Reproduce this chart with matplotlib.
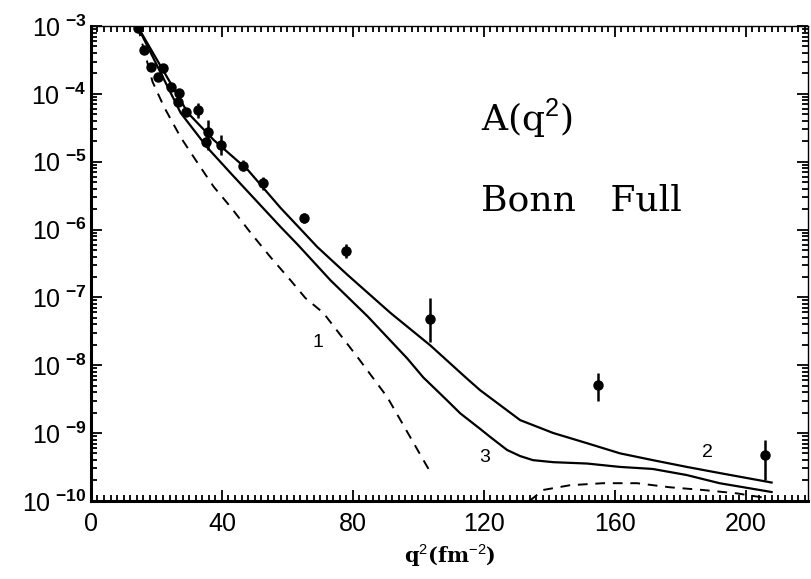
import numpy as np
import matplotlib
matplotlib.use("Agg")
import matplotlib.pyplot as plt
from matplotlib.ticker import MultipleLocator, LogLocator, NullFormatter

plt.rcParams['mathtext.fontset'] = 'custom'
plt.rcParams['mathtext.rm'] = 'Liberation Sans'
plt.rcParams['mathtext.bf'] = 'Liberation Sans:bold'

# data points (q^2 in fm^-2, log10 A)
q2_data = [14.3, 16.2, 18.3, 20.4, 22.0, 24.4, 26.8, 26.5, 29.0, 32.6, 35.1, 35.7,
           39.6, 46.3, 52.7, 65.2, 78.0, 103.7, 154.9, 205.8]
logA_data = [-3.03, -3.35, -3.60, -3.75, -3.62, -3.90, -3.99, -4.12, -4.27, -4.24, -4.71, -4.56,
             -4.76, -5.06, -5.32, -5.83, -6.32, -7.32, -8.29, -9.33]
logA_lo = [-3.08, -3.40, -3.66, -3.81, -3.68, -3.96, -4.05, -4.18, -4.33, -4.36, -4.78, -4.83,
           -4.90, -5.14, -5.42, -5.90, -6.42, -7.66, -8.53, -9.70]
logA_hi = [-2.98, -3.30, -3.54, -3.69, -3.56, -3.84, -3.93, -4.06, -4.21, -4.14, -4.64, -4.39,
           -4.61, -4.98, -5.22, -5.76, -6.22, -7.01, -8.12, -9.11]

# curve 1 (dashed)
q2_c1 = [14.3, 18.8, 22.3, 27.4, 32.6, 37.5, 42.7, 48.8, 54.9, 61.0, 65.5, 71.0, 81.4, 90.5, 103.7]
logA_c1 = [-3.01, -3.82, -4.19, -4.64, -5.02, -5.37, -5.67, -6.05, -6.41, -6.75, -7.01, -7.23,
           -7.88, -8.47, -9.58]

# curve 1 second lobe (dashed, near bottom)
q2_c1b = [134.0, 138.1, 146.3, 156.4, 166.8, 176.8, 186.9, 197.3, 206.4]
logA_c1b = [-10.0, -9.84, -9.77, -9.74, -9.74, -9.80, -9.84, -9.89, -9.96]

# curve 2 (upper solid)
q2_c2 = [14.3, 29.6, 37.5, 47.9, 57.9, 69.2, 78.4, 91.5, 103.7, 114.9, 118.9, 131.1,
         141.2, 151.5, 161.6, 171.6, 182.0, 192.0, 207.9]
logA_c2 = [-3.01, -4.28, -4.68, -5.12, -5.68, -6.26, -6.67, -7.23, -7.71, -8.20, -8.37, -8.81,
           -9.00, -9.15, -9.30, -9.40, -9.50, -9.59, -9.73]

# curve 3 (lower solid)
q2_c3 = [14.3, 27.4, 35.7, 42.7, 52.7, 57.9, 63.1, 73.2, 84.5, 96.6, 101.5, 108.8, 112.8,
         118.9, 122.0, 127.1, 131.1, 135.0, 141.2, 151.5, 161.6, 171.6, 182.0, 192.0, 207.9]
logA_c3 = [-3.01, -4.28, -4.80, -5.17, -5.69, -5.96, -6.22, -6.75, -7.28, -7.90, -8.18, -8.52,
           -8.71, -8.94, -9.06, -9.25, -9.34, -9.40, -9.43, -9.45, -9.50, -9.53, -9.62, -9.74, -9.87]

y_ticks = [1e-3, 1e-4, 1e-5, 1e-6, 1e-7, 1e-8, 1e-9, 1e-10]
y_exps = ['-3', '-4', '-5', '-6', '-7', '-8', '-9', '-10']
x_ticks = [0, 40, 80, 120, 160, 200]

fig = plt.figure(figsize=(8.12, 5.79), dpi=100)
ax = fig.add_axes([0.112, 0.135, 0.883, 0.82])

ax.plot(q2_c2, 10**np.array(logA_c2), color='black', lw=1.6)
ax.plot(q2_c3, 10**np.array(logA_c3), color='black', lw=1.6)
ax.plot(q2_c1, 10**np.array(logA_c1), color='black', lw=1.4, ls=(0, (5, 4)))
ax.plot(q2_c1b, 10**np.array(logA_c1b), color='black', lw=1.4, ls=(0, (5, 4)))

yd = 10**np.array(logA_data)
yerr = [yd - 10**np.array(logA_lo), 10**np.array(logA_hi) - yd]
ax.errorbar(q2_data, yd, yerr=yerr, fmt='o', color='black', ms=6.5, elinewidth=1.8, capsize=0)

ax.set_yscale('log')
ax.set_xlim(0, 219)
ax.set_ylim(1e-10, 1e-3)

ax.set_yticks(y_ticks)
ax.set_yticklabels([r'$\mathrm{10}^{\ \mathbf{' + e + '}}$' for e in y_exps], fontsize=18)
ax.yaxis.set_minor_locator(LogLocator(base=10, subs=np.arange(2, 10)))
ax.yaxis.set_minor_formatter(NullFormatter())
ax.set_xticks(x_ticks)
ax.set_xticklabels([str(v) for v in x_ticks], fontsize=18, family='Liberation Sans')
ax.xaxis.set_minor_locator(MultipleLocator(2))

ax.tick_params(which='both', direction='in', top=True, right=True, width=1.3)
ax.tick_params(which='major', length=8)
ax.tick_params(which='minor', length=4)
ax.tick_params(axis='x', pad=8)
ax.tick_params(axis='y', pad=3)
for s in ['left', 'bottom']:
    ax.spines[s].set_linewidth(2.2)
for s in ['top', 'right']:
    ax.spines[s].set_linewidth(1.0)

ax.set_xlabel(r'q$^{2}$(fm$^{-2}$)', fontsize=15, family='DejaVu Serif',
              fontweight='bold', labelpad=5)

ax.text(119, 10**-4.55, r'A(q$^{2}$)', fontsize=26, family='DejaVu Serif')
ax.text(119, 10**-5.72, 'Bonn   Full', fontsize=26, family='DejaVu Serif')

ax.text(69.2, 10**-7.66, '1', fontsize=14, ha='center', va='center', family='Liberation Sans')
ax.text(188.4, 10**-9.28, '2', fontsize=14, ha='center', va='center', family='Liberation Sans')
ax.text(120.4, 10**-9.36, '3', fontsize=14, ha='center', va='center', family='Liberation Sans')

fig.savefig('out.png', dpi=100)
